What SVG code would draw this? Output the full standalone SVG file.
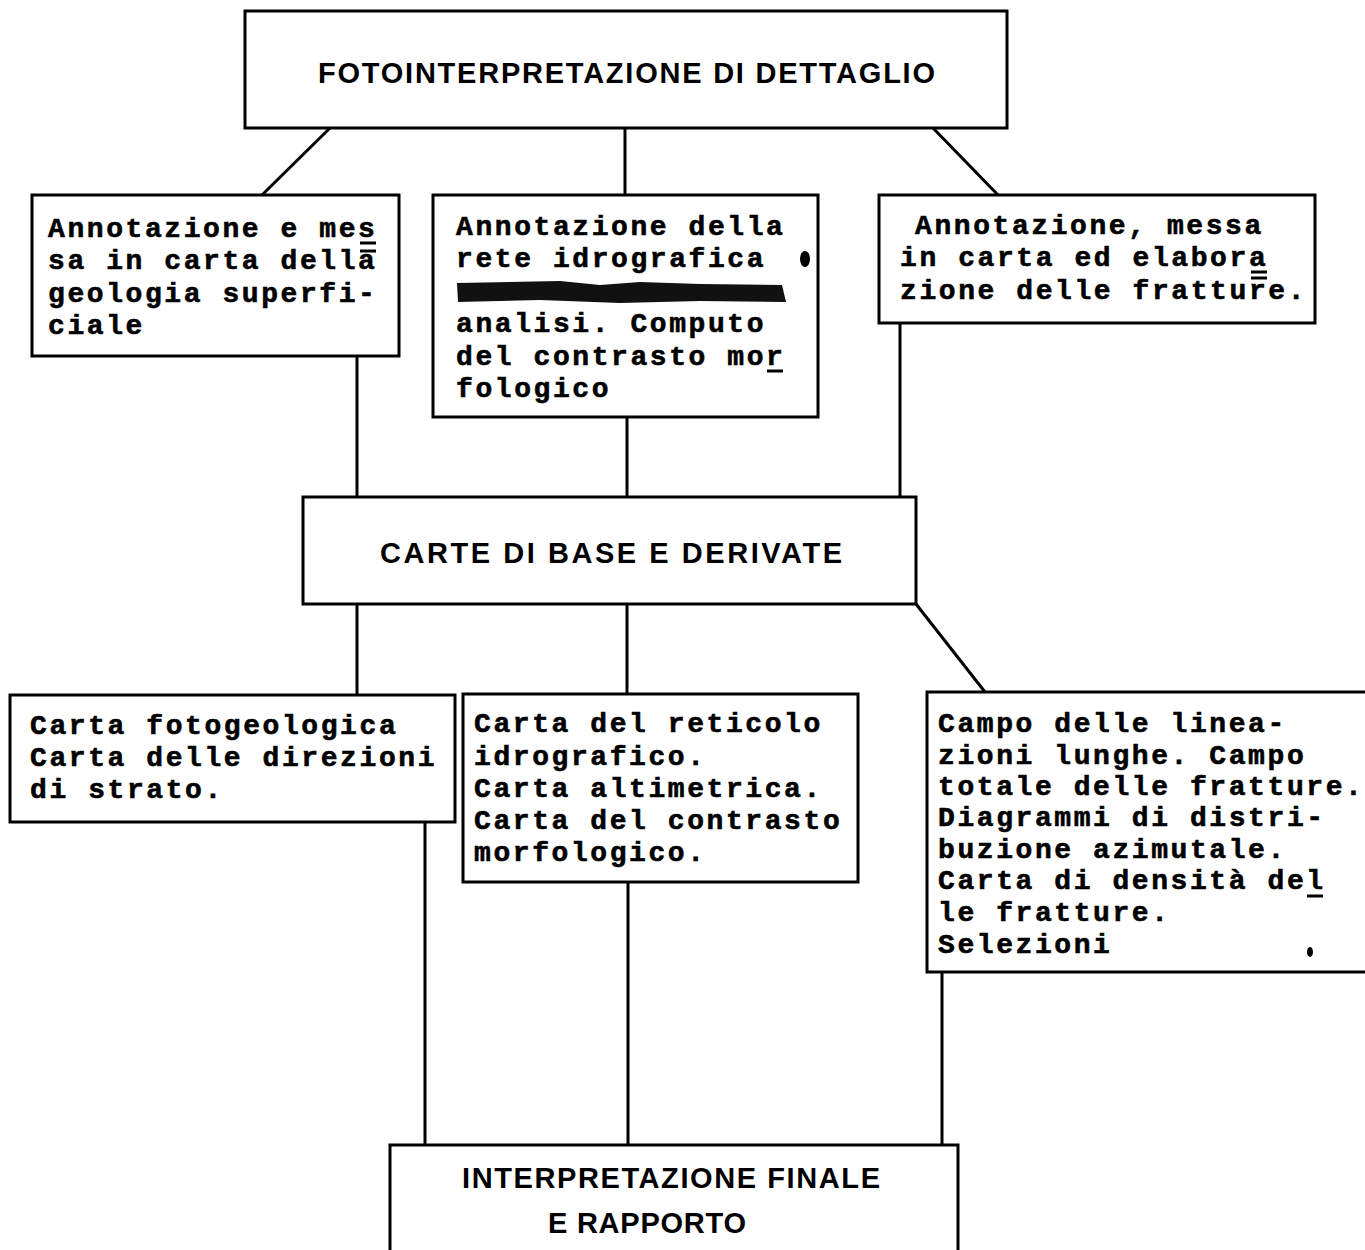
<svg xmlns="http://www.w3.org/2000/svg" width="1365" height="1250" viewBox="0 0 1365 1250">
<style>
.box{fill:#fff;stroke:#000;stroke-width:3}
.ln{stroke:#000;stroke-width:3;fill:none}
.mk{stroke:#000;stroke-width:3;fill:none}
.h{font-family:"Liberation Sans",Arial,sans-serif;font-weight:bold;font-size:29px;fill:#000}
.m{font-family:"Liberation Mono","Courier New",monospace;font-weight:bold;font-size:28px;letter-spacing:2.58px;fill:#000;stroke:#000;stroke-width:0.6}
</style>
<rect width="1365" height="1250" fill="#fff"/>
<g id="connectors">
<line class="ln" x1="330" y1="128" x2="262" y2="195"/>
<line class="ln" x1="625" y1="128" x2="625" y2="195"/>
<line class="ln" x1="933" y1="128" x2="998" y2="195"/>
<line class="ln" x1="357" y1="356" x2="357" y2="497"/>
<line class="ln" x1="627" y1="417" x2="627" y2="497"/>
<line class="ln" x1="900" y1="323" x2="900" y2="497"/>
<line class="ln" x1="357" y1="604" x2="357" y2="695"/>
<line class="ln" x1="627" y1="604" x2="627" y2="694"/>
<line class="ln" x1="916" y1="604" x2="985" y2="692"/>
<line class="ln" x1="425" y1="822" x2="425" y2="1145"/>
<line class="ln" x1="628" y1="882" x2="628" y2="1145"/>
<line class="ln" x1="942" y1="972" x2="942" y2="1145"/>
</g>
<g id="top">
<rect class="box" x="245" y="11" width="762" height="117"/>
<text class="h" x="318" y="83" textLength="617" lengthAdjust="spacing">FOTOINTERPRETAZIONE DI DETTAGLIO</text>
</g>
<g id="boxA">
<rect class="box" x="32" y="195" width="367" height="161"/>
<text class="m" x="48" y="237">Annotazione e mes</text>
<text class="m" x="48" y="269">sa in carta della</text>
<text class="m" x="48" y="302">geologia superfi-</text>
<text class="m" x="48" y="334">ciale</text>
<line class="mk" x1="360" y1="243" x2="376" y2="243"/>
<line class="mk" x1="360" y1="251" x2="376" y2="251"/>
</g>
<g id="boxB">
<rect class="box" x="433" y="195" width="385" height="222"/>
<text class="m" x="456" y="235">Annotazione della</text>
<text class="m" x="456" y="267">rete idrografica</text>
<ellipse cx="805" cy="259" rx="5" ry="8" fill="#000"/>
<path d="M457,283 L560,281 L600,285 L640,282 L700,284 L782,285 L786,302 L700,301 L620,303 L540,300 L458,302 Z" fill="#111"/>
<text class="m" x="456" y="332">analisi. Computo</text>
<text class="m" x="456" y="365">del contrasto mor</text>
<text class="m" x="456" y="397">fologico</text>
<line class="mk" x1="767" y1="371" x2="783" y2="371"/>
</g>
<g id="boxC">
<rect class="box" x="879" y="195" width="436" height="128"/>
<text class="m" x="915" y="234">Annotazione, messa</text>
<text class="m" x="900" y="266">in carta ed elabora</text>
<text class="m" x="900" y="299">zione delle fratture.</text>
<line class="mk" x1="1251" y1="272" x2="1267" y2="272"/>
<line class="mk" x1="1251" y1="278" x2="1267" y2="278"/>
</g>
<g id="mid">
<rect class="box" x="303" y="497" width="613" height="107"/>
<text class="h" x="380" y="563" textLength="462" lengthAdjust="spacing">CARTE DI BASE E DERIVATE</text>
</g>
<g id="boxD">
<rect class="box" x="10" y="695" width="445" height="127"/>
<text class="m" x="30" y="734">Carta fotogeologica</text>
<text class="m" x="30" y="766">Carta delle direzioni</text>
<text class="m" x="30" y="798">di strato.</text>
</g>
<g id="boxE">
<rect class="box" x="463" y="694" width="395" height="188"/>
<text class="m" x="474" y="732">Carta del reticolo</text>
<text class="m" x="474" y="765">idrografico.</text>
<text class="m" x="474" y="797">Carta altimetrica.</text>
<text class="m" x="474" y="829">Carta del contrasto</text>
<text class="m" x="474" y="861">morfologico.</text>
</g>
<g id="boxF">
<rect class="box" x="927" y="692" width="445" height="280"/>
<text class="m" x="938" y="732">Campo delle linea-</text>
<text class="m" x="938" y="764">zioni lunghe. Campo</text>
<text class="m" x="938" y="795">totale delle fratture.</text>
<text class="m" x="938" y="826">Diagrammi di distri-</text>
<text class="m" x="938" y="858">buzione azimutale.</text>
<text class="m" x="938" y="889">Carta di densità del</text>
<text class="m" x="938" y="921">le fratture.</text>
<text class="m" x="938" y="953">Selezioni</text>
<line class="mk" x1="1307" y1="896" x2="1323" y2="896"/>
<ellipse cx="1310" cy="952" rx="3" ry="5" fill="#000"/>
</g>
<g id="bottom">
<rect class="box" x="390" y="1145" width="568" height="115"/>
<text class="h" x="462" y="1188" textLength="418" lengthAdjust="spacing">INTERPRETAZIONE FINALE</text>
<text class="h" x="548" y="1233" textLength="198" lengthAdjust="spacing">E RAPPORTO</text>
</g>
</svg>
